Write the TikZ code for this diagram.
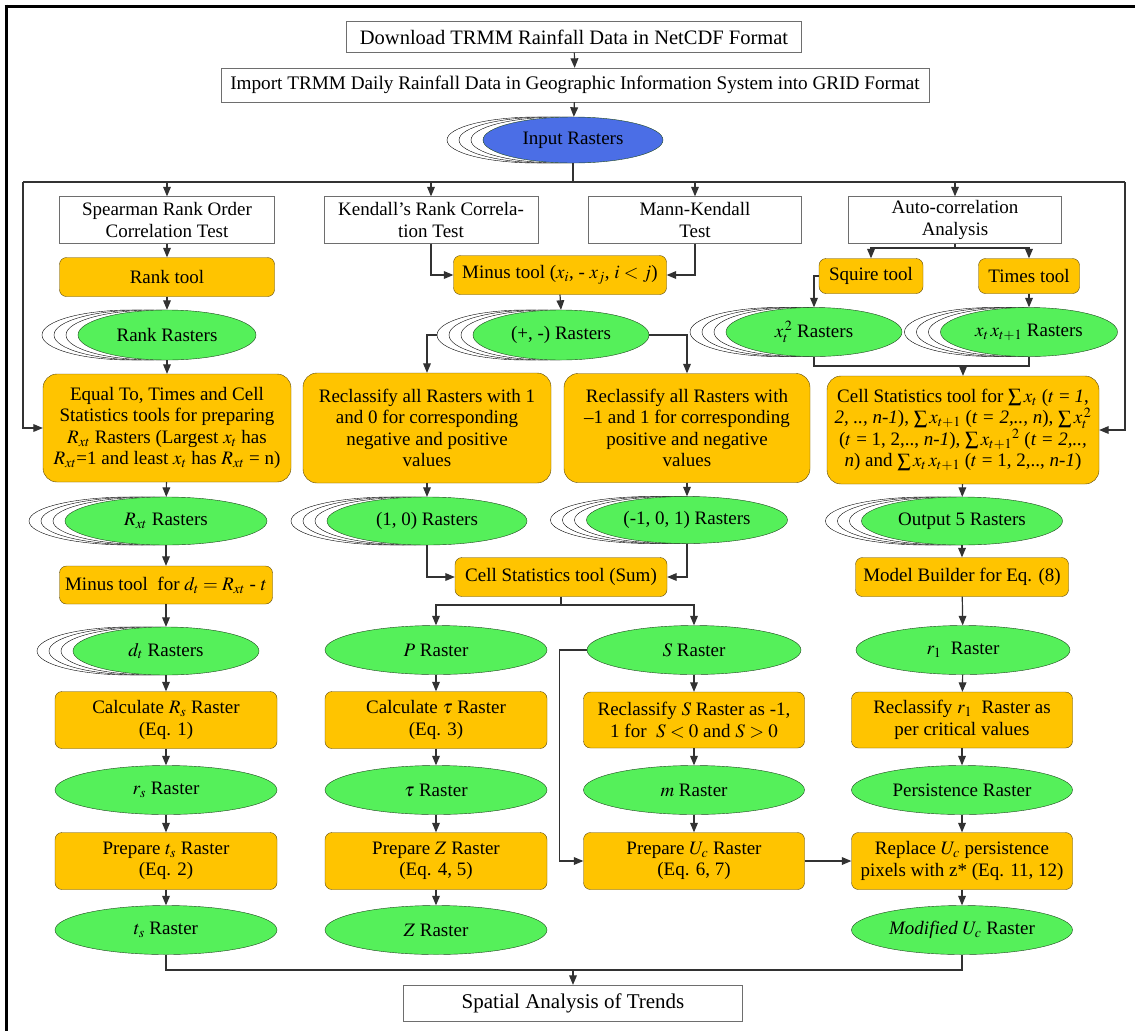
\documentclass[tikz,border=0pt]{standalone}
\usepackage{mathptmx}
\usepackage{fontspec}
\setmainfont{Liberation Serif}
\usetikzlibrary{arrows,shapes.geometric,shadows}

\definecolor{toolfill}{RGB}{255,196,0}
\definecolor{toolline}{RGB}{90,70,10}
\definecolor{rasterfill}{RGB}{85,240,90}
\definecolor{rasterline}{RGB}{30,70,30}
\definecolor{inputfill}{RGB}{75,110,230}
\definecolor{boxline}{RGB}{110,110,110}
\definecolor{wireline}{RGB}{50,50,50}

\begin{document}
\begin{tikzpicture}
  [x=1pt,y=-1pt,
   every node/.style={font=\fontsize{19}{21.5}\selectfont,align=center},
   head/.style={rectangle,draw=boxline,fill=white,inner sep=1pt},
   tool/.style={rectangle,rounded corners=7pt,draw=toolline,fill=toolfill,inner sep=1pt},
   raster/.style={ellipse,draw=rasterline,fill=rasterfill,inner xsep=-20pt,inner ysep=0pt},
   stackcopy/.style={copy shadow={shadow xshift=#1,shadow yshift=0pt,fill=white,draw=black}},
   stack/.style={stackcopy=-36pt,stackcopy=-24pt,stackcopy=-12pt},
   wire/.style={draw=wireline,line width=1.2pt},
   flow/.style={wire,arrows={-{triangle 45}}}]
  \useasboundingbox (0,0) rectangle (1135,1031);
  \draw[line width=3pt] (4.5,6) -- (1135,6);
  \draw[line width=3pt] (6,4.5) -- (6,1031);

  % data preparation
  \node[head,minimum width=455pt,minimum height=31pt,font=\fontsize{20.5}{23}\selectfont] (down) at (574,37) {Download TRMM Rainfall Data in NetCDF Format};
  \node[head,minimum width=708pt,minimum height=34pt,font=\fontsize{19.2}{22}\selectfont] (import) at (575,85) {Import TRMM Daily Rainfall Data in Geographic Information System into GRID Format};
  \node[raster,stack,fill=inputfill,minimum width=180pt,minimum height=46pt] (input) at (573,140) {Input Rasters};

  % test headers
  \node[head,minimum width=215pt,minimum height=47pt] (spear) at (167,220) {Spearman Rank Order\\Correlation Test};
  \node[head,minimum width=214pt,minimum height=47pt] (kend) at (431,220) {Kendall's Rank Correla-\\tion Test};
  \node[head,minimum width=213pt,minimum height=47pt] (mk) at (695,220) {Mann-Kendall\\Test};
  \node[head,minimum width=213pt,minimum height=47pt] (auto) at (955,220) {Auto-correlation\\Analysis};

  % Spearman column
  \node[tool,minimum width=215pt,minimum height=39pt] (rank) at (167,277) {Rank tool};
  \node[raster,stack,minimum width=178pt,minimum height=50pt] (rankr) at (167,335) {Rank Rasters};
  \node[tool,rounded corners=14pt,minimum width=248pt,minimum height=108pt] (equal) at (167,428) {Equal To, Times and Cell\\Statistics tools for preparing\\$R_{xt}$ Rasters (Largest $x_t$ has\\$R_{xt}$=1 and least $x_t$ has $R_{xt}$ = n)};
  \node[raster,stack,minimum width=202pt,minimum height=48pt] (rxt) at (166,521) {$R_{xt}$ Rasters};
  \node[tool,minimum width=213pt,minimum height=38pt] (minusd) at (166,585) {Minus tool\ \ for $d_t = R_{xt}$ - $t$};
  \node[raster,stack,minimum width=186pt,minimum height=48pt] (dt) at (166,651) {$d_t$ Rasters};
  \node[tool,minimum width=222pt,minimum height=57pt] (calcrs) at (166,720) {Calculate $R_s$ Raster\\(Eq. 1)};
  \node[raster,minimum width=222pt,minimum height=49pt] (rs) at (166,790) {$r_s$ Raster};
  \node[tool,minimum width=222pt,minimum height=57pt] (prepts) at (166,861) {Prepare $t_s$ Raster\\(Eq. 2)};
  \node[raster,minimum width=222pt,minimum height=49pt] (ts) at (166,930) {$t_s$ Raster};

  % Kendall and Mann-Kendall columns
  \node[tool,minimum width=213pt,minimum height=39pt] (minus) at (560,275) {Minus tool ($x_i$, - $x_j$, $i < j$)};
  \node[raster,stack,minimum width=176pt,minimum height=50pt] (pm) at (561,335) {(+, -) Rasters};
  \node[tool,rounded corners=14pt,minimum width=248pt,minimum height=110pt] (recl1) at (427,428) {Reclassify all Rasters with 1\\and 0 for corresponding\\negative and positive\\values};
  \node[tool,rounded corners=14pt,minimum width=246pt,minimum height=109pt] (recl2) at (687,428) {Reclassify all Rasters with\\--1 and 1 for corresponding\\positive and negative\\values};
  \node[raster,stack,minimum width=200pt,minimum height=48pt] (onezero) at (427,521) {(1, 0) Rasters};
  \node[raster,stack,minimum width=201pt,minimum height=47pt] (mone) at (687,520) {(-1, 0, 1) Rasters};
  \node[tool,minimum width=212pt,minimum height=39pt] (sum) at (561,577) {Cell Statistics tool (Sum)};
  \node[raster,minimum width=222pt,minimum height=49pt] (praster) at (436,650) {$P$ Raster};
  \node[raster,minimum width=214pt,minimum height=49pt] (sraster) at (694,650) {$S$ Raster};
  \node[tool,minimum width=222pt,minimum height=57pt] (calctau) at (436,720) {Calculate $\tau$ Raster\\(Eq. 3)};
  \node[tool,minimum width=221pt,minimum height=56pt] (recls) at (694,720) {Reclassify $S$ Raster as -1,\\1 for\ \ $S < 0$ and $S > 0$};
  \node[raster,minimum width=222pt,minimum height=49pt] (tau) at (436,790) {$\tau$ Raster};
  \node[raster,minimum width=221pt,minimum height=49pt] (mr) at (694,790) {$m$ Raster};
  \node[tool,minimum width=222pt,minimum height=57pt] (prepz) at (436,861) {Prepare $Z$ Raster\\(Eq. 4, 5)};
  \node[tool,minimum width=221pt,minimum height=57pt] (prepuc) at (694,861) {Prepare $U_c$ Raster\\(Eq. 6, 7)};
  \node[raster,minimum width=222pt,minimum height=49pt] (zr) at (436,930) {$Z$ Raster};

  % auto-correlation column
  \node[tool,minimum width=104pt,minimum height=35pt] (squire) at (871,276) {Squire tool};
  \node[tool,minimum width=101pt,minimum height=35pt] (times) at (1029,276) {Times tool};
  \node[raster,stack,minimum width=176pt,minimum height=49pt] (xsq) at (814,332) {$x_t^{\,2}$ Rasters};
  \node[raster,stack,minimum width=177pt,minimum height=49pt] (xx) at (1029,332) {$x_t\,x_{t+1}$ Rasters};
  \node[tool,rounded corners=14pt,minimum width=272pt,minimum height=108pt] (cellst) at (963,430) {Cell Statistics tool for $\sum x_t$ ($t$ = \textit{1},\\\textit{2, .., n-1}), $\sum x_{t+1}$ (\textit{t = 2,.., n}), $\sum x_t^{\,2}$\\($t$ = 1, 2,.., \textit{n-1}), $\sum {x_{t+1}}^{2}$ (\textit{t = 2,..,}\\\textit{n}) and $\sum x_t\,x_{t+1}$ ($t$ = 1, 2,.., \textit{n-1})};
  \node[raster,stack,minimum width=201pt,minimum height=48pt] (out5) at (962,521) {Output 5 Rasters};
  \node[tool,minimum width=213pt,minimum height=39pt] (model) at (962,577) {Model Builder for Eq. (8)};
  \node[raster,minimum width=214pt,minimum height=49pt] (r1) at (963,650) {$r_1$\ \ Raster};
  \node[tool,minimum width=221pt,minimum height=56pt] (reclr) at (962,720) {Reclassify $r_1$\ \ Raster as\\per critical values};
  \node[raster,minimum width=221pt,minimum height=49pt] (pers) at (962,790) {Persistence Raster};
  \node[tool,minimum width=221pt,minimum height=57pt] (repl) at (962,861) {Replace $U_c$ persistence\\pixels with z* (Eq. 11, 12)};
  \node[raster,minimum width=221pt,minimum height=49pt] (moduc) at (962,930) {\textit{Modified} $U_c$ Raster};

  \node[head,minimum width=339pt,minimum height=36pt,font=\fontsize{21}{24}\selectfont] (spatial) at (573,1003) {Spatial Analysis of Trends};

  % junctions
  \coordinate (busl) at (23,182);
  \coordinate (busr) at (1125,182);
  \coordinate (autosplit) at (955,248);
  \coordinate (sqjoin) at (963,366);
  \coordinate (sumsplit) at (561,605);
  \coordinate (trendjoin) at (573,970);

  % connectors
  \draw[flow] (down) -- (import);
  \draw[flow] (import) -- (input);
  \draw[wire] (input.south) -- (input.south |- busl);
  \draw[wire] (busl) -- (busr);
  \draw[flow] (spear.north |- busl) -- (spear.north);
  \draw[flow] (kend.north |- busl) -- (kend.north);
  \draw[flow] (mk.north |- busl) -- (mk.north);
  \draw[flow] (auto.north |- busl) -- (auto.north);
  \draw[flow] (busl) |- (equal.west);
  \draw[flow] (busr) |- (cellst.east);

  \draw[flow] (spear) -- (rank);
  \draw[flow] (rank) -- (rankr);
  \draw[flow] (rankr) -- (equal);
  \draw[flow] (equal) -- (rxt);
  \draw[flow] (rxt) -- (minusd);
  \draw[flow] (minusd) -- (dt);
  \draw[flow] (dt) -- (calcrs);
  \draw[flow] (calcrs) -- (rs);
  \draw[flow] (rs) -- (prepts);
  \draw[flow] (prepts) -- (ts);

  \draw[flow] (kend.south) |- (minus.west);
  \draw[flow] (mk.south) |- (minus.east);
  \draw[flow] (minus.south) -- (pm.north);
  \draw[flow] ([xshift=-36pt]pm.west) -| (recl1.north);
  \draw[flow] (pm.east) -| (recl2.north);
  \draw[flow] (recl1) -- (onezero);
  \draw[flow] (recl2) -- (mone);
  \draw[flow] (onezero.south) |- (sum.west);
  \draw[flow] (mone.south) |- (sum.east);
  \draw[wire] (sum.south) -- (sumsplit);
  \draw[flow] (sumsplit) -| (praster.north);
  \draw[flow] (sumsplit) -| (sraster.north);
  \draw[flow] (praster) -- (calctau);
  \draw[flow] (calctau) -- (tau);
  \draw[flow] (tau) -- (prepz);
  \draw[flow] (prepz) -- (zr);
  \draw[flow] (sraster) -- (recls);
  \draw[flow] (recls) -- (mr);
  \draw[flow] (mr) -- (prepuc);
  \draw[flow] (sraster.west) -- ++(-27pt,0) |- (prepuc.west);
  \draw[flow] (prepuc) -- (repl);

  \draw[wire] (auto.south) -- (autosplit);
  \draw[flow] (autosplit) -| (squire.north);
  \draw[flow] (autosplit) -| (times.north);
  \draw[flow] (squire.west) -| (xsq.north);
  \draw[flow] (times.south) -- (xx.north);
  \draw[wire] (xsq.south) |- (sqjoin) -| (xx.south);
  \draw[flow] (sqjoin) -- (cellst.north);
  \draw[flow] (cellst) -- (out5);
  \draw[flow] (out5) -- (model);
  \draw[flow] (model) -- (r1);
  \draw[flow] (r1) -- (reclr);
  \draw[flow] (reclr) -- (pers);
  \draw[flow] (pers) -- (repl);
  \draw[flow] (repl) -- (moduc);

  \draw[wire] (ts.south) |- (trendjoin) -| (moduc.south);
  \draw[flow] (trendjoin) -- (spatial.north);
\end{tikzpicture}
\end{document}
